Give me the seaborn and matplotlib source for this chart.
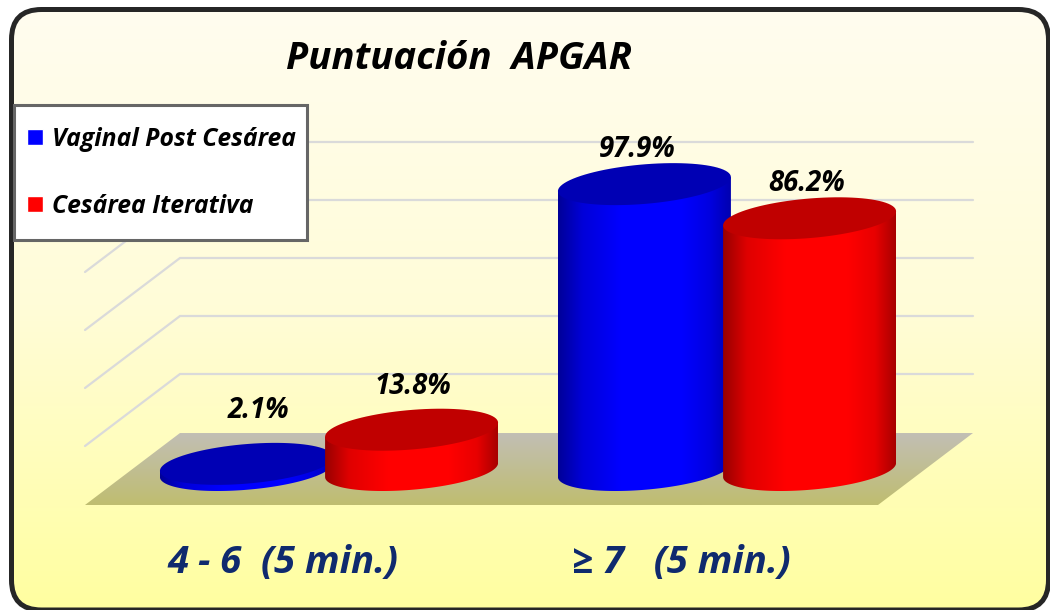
import numpy as np
import pandas as pd
import matplotlib
matplotlib.use("Agg")
import matplotlib.pyplot as plt
import seaborn as sns
from matplotlib.colors import LinearSegmentedColormap
from matplotlib.patches import FancyBboxPatch, Polygon, Rectangle
from matplotlib.transforms import ScaledTranslation

# DATA
categories = ["4 - 6  (5 min.)", "≥ 7   (5 min.)"]
series_names = ["Vaginal Post Cesárea", "Cesárea Iterativa"]
vaginal_values = [2.1, 97.9]
iterativa_values = [13.8, 86.2]
grid_ticks = [20, 40, 60, 80, 100]

# STYLE
W, H = 1050, 610
PX_X = 398.0    # pixels per category
PX_Y = 2.92     # pixels per percent
BASE_PX = 470   # pixel row of value 0
AXIS_BOTTOM_PX = 535
CENTER_PX = 329  # pixel column of the first category
SLOPE = 0.081
CAP_B = 19.8
NAVY = "#0f2a6e"

sns.set_theme(style="white")
plt.rcParams["font.family"] = ["Open Sans", "DejaVu Sans"]
plt.rcParams["font.weight"] = "bold"
plt.rcParams["font.style"] = "italic"

df = pd.DataFrame({
    "categoria": categories * 2,
    "serie": [series_names[0]] * 2 + [series_names[1]] * 2,
    "valor": vaginal_values + iterativa_values,
})

fig = plt.figure(figsize=(W / 100, H / 100), dpi=100, facecolor="white")

# backdrop in pixel coordinates: panel, floor, wall lines
bg = fig.add_axes([0, 0, 1, 1], zorder=0)
bg.set_xlim(0, W)
bg.set_ylim(H, 0)
bg.axis("off")

panel = FancyBboxPatch((11.5, 9.5), 1037, 600.5, boxstyle="round,pad=0,rounding_size=30",
                       facecolor="none", edgecolor="none")
bg.add_patch(panel)
panel_cmap = LinearSegmentedColormap.from_list("panel", ["#fffdf0", "#fffcd8", "#ffffa0"])
img = bg.imshow(np.linspace(0, 1, 256).reshape(-1, 1), extent=(0, W, H, 0), aspect="auto",
                cmap=panel_cmap, zorder=1)
img.set_clip_path(panel)

floor = Polygon([(85, 505), (878, 505), (973, 433), (180, 433)], closed=True,
                facecolor="none", edgecolor="none")
bg.add_patch(floor)
floor_cmap = LinearSegmentedColormap.from_list("floor", ["#c2bfb4", "#bfbd70"])
floor_img = bg.imshow(np.linspace(0, 1, 64).reshape(-1, 1), extent=(85, 973, 505, 433),
                      aspect="auto", cmap=floor_cmap, zorder=2)
floor_img.set_clip_path(floor)

for tick in grid_ticks:
    y_back = 432 - tick * 2.9
    bg.plot([85, 180, 973], [y_back + 72, y_back, y_back], color="#dadada", lw=1.6, zorder=3,
            solid_joinstyle="miter")

bg.add_patch(FancyBboxPatch((11.5, 9.5), 1037, 600.5, boxstyle="round,pad=0,rounding_size=30",
                            facecolor="none", edgecolor="#262626", lw=3.6, zorder=4, clip_on=False))
# legend box
bg.add_patch(Rectangle((14, 105), 293, 135, facecolor="white", edgecolor="#666666", lw=2.2, zorder=5))
bg.set_xlim(0, W)
bg.set_ylim(H, 0)

# chart axes over the backdrop
ax = fig.add_axes([0, 1 - AXIS_BOTTOM_PX / H, 1, AXIS_BOTTOM_PX / H], zorder=1)
ax.patch.set_alpha(0)

sns.barplot(data=df, x="categoria", y="valor", hue="serie", order=categories,
            hue_order=series_names, palette=["#0000ff", "#ff0000"], saturation=1, width=0.83,
            errorbar=None, ax=ax)


def ellipse(cx, base, half_w, start, stop):
    # sheared ellipse, the perspective of the cylinder ends
    t = np.linspace(start, stop, 90)
    half_px = half_w * PX_X
    xs = cx + half_w * np.cos(t)
    ys = base + (SLOPE * half_px * np.cos(t) + CAP_B * np.sin(t)) / PX_Y
    return np.column_stack([xs, ys])


side_colors = [
    ["#000098", "#0000d8", "#0000ff", "#0000ff", "#0000e0", "#0000b0"],
    ["#980000", "#e00000", "#ff0000", "#ff0000", "#e80000", "#a80000"],
]
cap_colors = ["#0000b4", "#c00000"]
stops = [0, 0.14, 0.36, 0.72, 0.88, 1]
label_nudges = [[(12, 53), (-7, 35)], [(1, 43), (-3, 35)]]

for s, cont in enumerate(ax.containers):
    cmap = LinearSegmentedColormap.from_list("side", list(zip(stops, side_colors[s])))
    for b, bar in enumerate(cont):
        value = bar.get_height()
        cx = bar.get_x() + bar.get_width() / 2
        half_w = 86.5 / PX_X
        bar.set_visible(False)
        z = 3 + s

        bottom_arc = ellipse(cx, 0, half_w, np.pi, 2 * np.pi)
        outline = np.vstack([[[cx - half_w, value - SLOPE * half_w * PX_X / PX_Y]], bottom_arc,
                             [[cx + half_w, value + SLOPE * half_w * PX_X / PX_Y]]])
        body = Polygon(outline, closed=True, transform=ax.transData, facecolor="none", edgecolor="none")
        ax.add_patch(body)
        side = ax.imshow(np.linspace(0, 1, 256).reshape(1, -1), cmap=cmap, aspect="auto", zorder=z,
                         extent=(cx - half_w, cx + half_w, -15, value + 15))
        side.set_clip_path(body)

        cap = ellipse(cx, value, half_w, 0, 2 * np.pi)
        ax.add_patch(Polygon(cap, closed=True, facecolor=cap_colors[s], edgecolor="none", zorder=z + 0.1))

        dx, dy = label_nudges[s][b]
        ax.text(cx + dx / PX_X, value + dy / PX_Y, f"{value:.1f}%", ha="center", va="center",
                fontsize=19.8, color="black", zorder=8)

ax.set_xlim(-CENTER_PX / PX_X, (W - CENTER_PX) / PX_X)
ax.set_ylim((BASE_PX - AXIS_BOTTOM_PX) / PX_Y, BASE_PX / PX_Y)
ax.set_xlabel("")
ax.set_ylabel("")
ax.set_yticks([])
ax.set_xticks(range(len(categories)))
ax.set_xticklabels(categories, fontsize=27.5, color=NAVY)
ax.tick_params(axis="x", length=0, pad=6.5)
for tick_label in ax.get_xticklabels():
    tick_label.set_transform(tick_label.get_transform() + ScaledTranslation(-0.46, 0, fig.dpi_scale_trans))
sns.despine(ax=ax, left=True, bottom=True)

ax.set_title("Puntuación  APGAR", x=459 / W, y=(AXIS_BOTTOM_PX - 69) / AXIS_BOTTOM_PX, pad=0,
             fontsize=27.6, color="black", fontweight="bold", fontstyle="italic")

leg = ax.legend(loc="upper left", bbox_to_anchor=(5 / W, 1 - 105 / AXIS_BOTTOM_PX),
                borderaxespad=0, frameon=False, fontsize=17.8, labelcolor="black",
                handlelength=0.66, handleheight=0.66, handletextpad=0.36, labelspacing=1.7,
                borderpad=0.88, title=None)
leg.set_zorder(20)

fig.savefig("out.png", dpi=100)
